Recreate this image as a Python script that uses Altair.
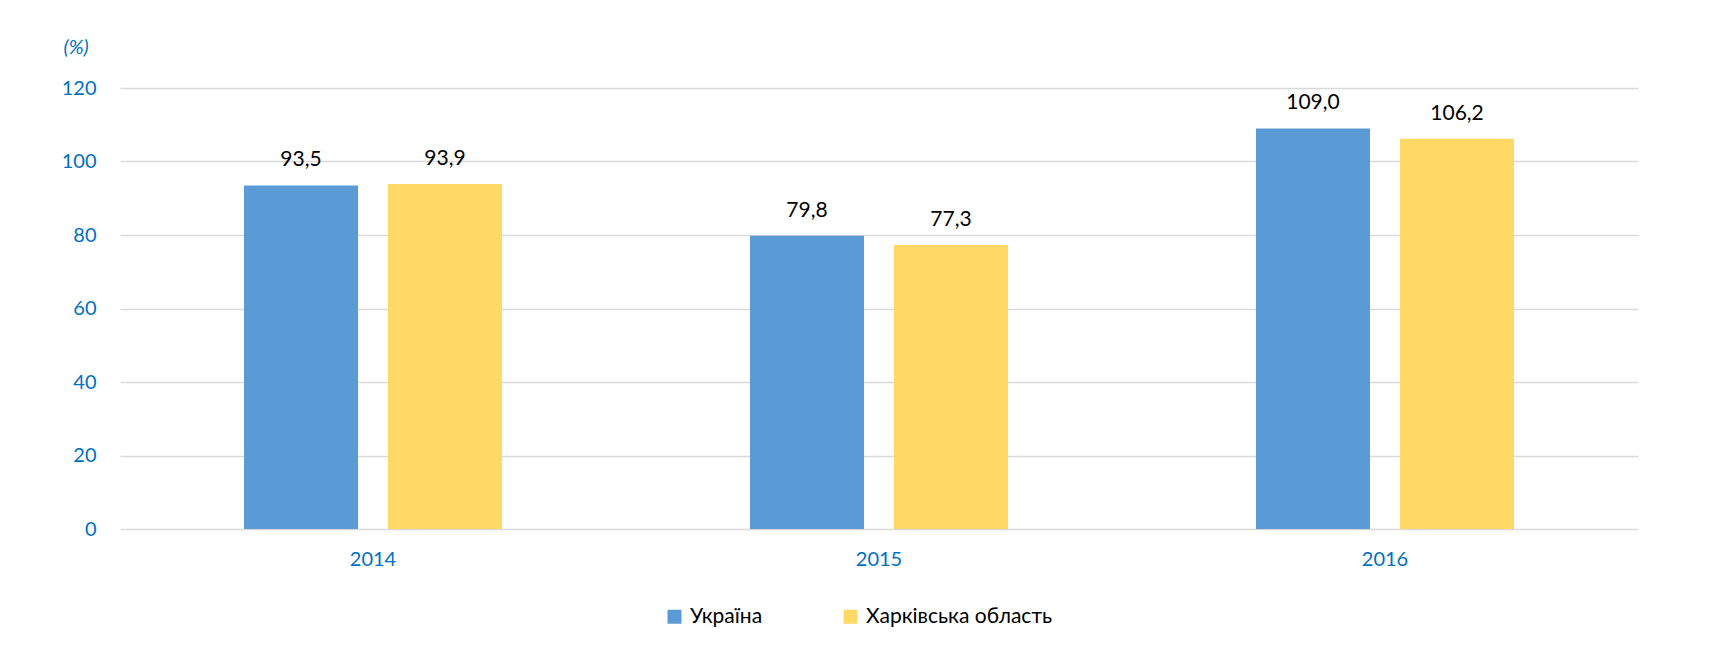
import altair as alt
import pandas as pd

years = ["2014", "2015", "2016"]
series = ["Україна", "Харківська область"]
ukraine = [93.5, 79.8, 109.0]
kharkiv = [93.9, 77.3, 106.2]
colors = ["#5B9BD5", "#FFD966"]
y_ticks = [0, 20, 40, 60, 80, 100, 120]

rows = []
for i, yr in enumerate(years):
    rows.append({"year": yr, "series": series[0], "value": ukraine[i]})
    rows.append({"year": yr, "series": series[1], "value": kharkiv[i]})
df = pd.DataFrame(rows)

FONT = "Lato"
AXBLUE = "#0070C0"
GRID = "#D9D9D9"

base = alt.Chart(df).encode(
    x=alt.X(
        "year:N",
        sort=years,
        title=None,
        scale=alt.Scale(paddingInner=0.49, paddingOuter=0.245),
        axis=alt.Axis(
            labelAngle=0,
            labelColor=AXBLUE,
            labelFont=FONT,
            labelFontSize=20,
            labelPadding=20,
            domain=False,
            ticks=False,
            grid=False,
        ),
    ),
    xOffset=alt.XOffset(
        "series:N", sort=series, scale=alt.Scale(paddingInner=0.2083, paddingOuter=0)
    ),
)

bars = base.mark_bar().encode(
    y=alt.Y(
        "value:Q",
        scale=alt.Scale(domain=[0, 120], nice=False),
        axis=alt.Axis(
            values=y_ticks,
            title="(%)",
            titleAngle=0,
            titleAlign="left",
            titleBaseline="middle",
            titleX=-57,
            titleY=-41,
            titleColor=AXBLUE,
            titleFont=FONT,
            titleFontSize=20,
            titleFontStyle="italic",
            titleFontWeight="normal",
            labelColor=AXBLUE,
            labelFont=FONT,
            labelFontSize=20,
            labelPadding=24,
            domain=False,
            ticks=False,
            grid=True,
            gridColor=GRID,
            gridWidth=1.5,
        ),
    ),
    color=alt.Color(
        "series:N",
        sort=series,
        scale=alt.Scale(domain=series, range=colors),
        legend=alt.Legend(
            title=None,
            orient="none",
            direction="horizontal",
            legendX=544,
            legendY=518,
            symbolType="square",
            symbolSize=196,
            symbolStrokeWidth=0,
            symbolOpacity=1,
            labelFont=FONT,
            labelFontSize=21,
            labelColor="#000000",
            labelLimit=400,
            labelOffset=5,
            columnPadding=77,
        ),
    ),
)

labels = (
    base.transform_calculate(
        label="replace(format(datum.value, '.1f'), '.', ',')"
    )
    .mark_text(baseline="alphabetic", dy=-19, font=FONT, fontSize=21, color="#000000")
    .encode(y=alt.Y("value:Q"), text=alt.Text("label:N"))
)

chart = (
    alt.layer(bars, labels)
    .properties(
        width=1518,
        height=441,
        autosize=alt.AutoSizeParams(type="none"),
        padding={"left": 112, "top": 80, "right": 60, "bottom": 110},
        view=alt.ViewBackground(stroke="transparent", strokeWidth=0),
    )
    .configure_view(strokeWidth=0, stroke="transparent")
    .configure(background="white")
)

chart.save("out.html", embed_options={"renderer": "svg", "actions": False})
